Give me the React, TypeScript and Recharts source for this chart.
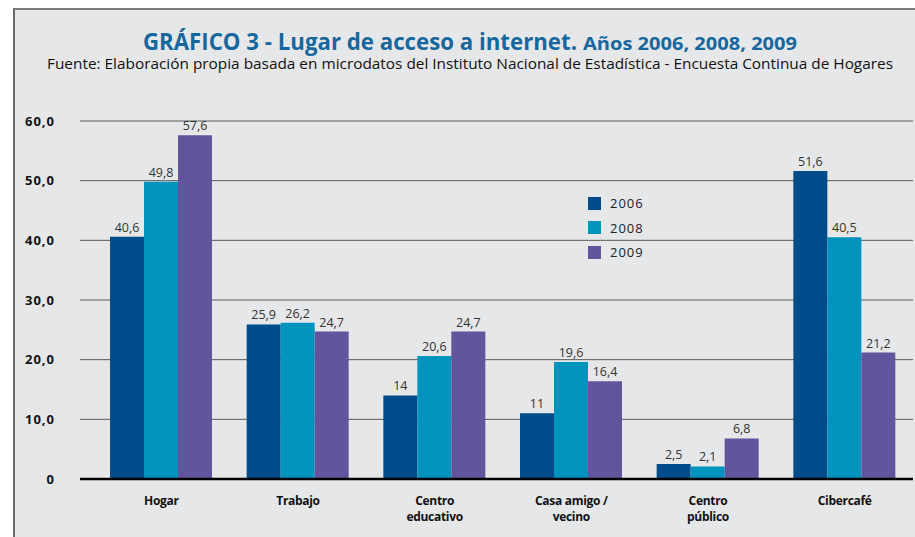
import React from 'react';
import { BarChart, Bar, XAxis, YAxis, CartesianGrid, LabelList } from 'recharts';

// Lugar de acceso a internet (%), años 2006, 2008, 2009
const categories = ['Hogar', 'Trabajo', 'Centro educativo', 'Casa amigo / vecino', 'Centro público', 'Cibercafé'];
// line breaks as printed under the axis
const categoryLines = [['Hogar'], ['Trabajo'], ['Centro', 'educativo'], ['Casa amigo /', 'vecino'], ['Centro', 'público'], ['Cibercafé']];
const values2006 = [40.6, 25.9, 14, 11, 2.5, 51.6];
const values2008 = [49.8, 26.2, 20.6, 19.6, 2.1, 40.5];
const values2009 = [57.6, 24.7, 24.7, 16.4, 6.8, 21.2];
const yTicks = [0, 10, 20, 30, 40, 50, 60];

const series = [
  { key: 'y2006', name: '2006', color: '#014c8a' },
  { key: 'y2008', name: '2008', color: '#0093be' },
  { key: 'y2009', name: '2009', color: '#62549d' },
];

const data = categories.map((c, i) => ({
  name: c,
  y2006: values2006[i],
  y2008: values2008[i],
  y2009: values2009[i],
}));

const FONT = '"Open Sans", "Noto Sans", sans-serif';

const fmtValue = (v: any) => String(v).replace('.', ',');
const fmtTick = (v: number) => (v === 0 ? '0' : v.toFixed(1).replace('.', ','));

const CategoryTick = ({ x, y, payload }: any) => {
  const lines = categoryLines[payload.index] || [payload.value];
  return (
    <g>
      {lines.map((l: string, i: number) => (
        <text key={i} x={x} y={y + i * 16} textAnchor="middle" fontFamily={FONT} fontWeight={700} fontSize={12} fill="#111" letterSpacing={-0.3}>
          {l}
        </text>
      ))}
    </g>
  );
};

const LegendBox = () => (
  <div style={{ position: 'absolute', left: 588, top: 196, display: 'flex', flexDirection: 'column', gap: 10.5 }}>
    {series.map((s) => (
      <div key={s.key} style={{ display: 'flex', alignItems: 'center', height: 14 }}>
        <span style={{ width: 13, height: 13, background: s.color, display: 'inline-block', marginRight: 9 }} />
        <span style={{ fontFamily: FONT, fontSize: 13, color: '#222', letterSpacing: 1 }}>{s.name}</span>
      </div>
    ))}
  </div>
);

export default function App() {
  return (
    <div style={{ position: 'absolute', left: 0, top: 0, width: 915, height: 537, background: '#fff', overflow: 'hidden' }}>
      <div style={{ position: 'absolute', left: 13, top: 8, width: 902, height: 529, background: '#e6e7e9', borderTop: '2px solid #7a7a7a', borderLeft: '2px solid #6a6a6a' }} />
      <svg width={915} height={80} style={{ position: 'absolute', left: 0, top: 0 }}>
        <text x={143} y={50} fontFamily={FONT} fontWeight={700} fontSize={23} fill="#17679f" textLength={434} lengthAdjust="spacingAndGlyphs">
          GRÁFICO 3 - Lugar de acceso a internet.
        </text>
        <text x={583} y={50} fontFamily={FONT} fontWeight={700} fontSize={18} fill="#17679f" textLength={214} lengthAdjust="spacingAndGlyphs">
          Años 2006, 2008, 2009
        </text>
        <text x={47} y={69} fontFamily={FONT} fontSize={14.5} fill="#111" textLength={846} lengthAdjust="spacingAndGlyphs">
          Fuente: Elaboración propia basada en microdatos del Instituto Nacional de Estadística - Encuesta Continua de Hogares
        </text>
      </svg>
      <div style={{ position: 'absolute', left: 0, top: 0 }}>
        <BarChart width={915} height={537} data={data} margin={{ top: 121, right: 2, bottom: 0, left: 0 }} barGap={0} barCategoryGap={17}>
          <CartesianGrid vertical={false} stroke="#5a5a5a" strokeWidth={1} />
          <XAxis
            dataKey="name"
            height={58}
            padding={{ left: 13, right: 0 }}
            axisLine={{ stroke: '#000', strokeWidth: 2.5 }}
            tickLine={false}
            interval={0}
            tick={<CategoryTick />}
            tickMargin={20}
          />
          <YAxis
            width={80}
            domain={[0, 60]}
            ticks={yTicks}
            axisLine={false}
            tickLine={false}
            tickMargin={19}
            tickFormatter={fmtTick}
            tick={{ fontFamily: FONT, fontWeight: 700, fontSize: 13, fill: '#111', letterSpacing: 1 }}
          />
          {series.map((s) => (
            <Bar key={s.key} dataKey={s.key} name={s.name} fill={s.color} isAnimationActive={false}>
              <LabelList dataKey={s.key} position="top" offset={5} formatter={fmtValue} style={{ fontFamily: FONT, fontSize: 12.5, fill: '#333' }} />
            </Bar>
          ))}
        </BarChart>
      </div>
      <LegendBox />
    </div>
  );
}
